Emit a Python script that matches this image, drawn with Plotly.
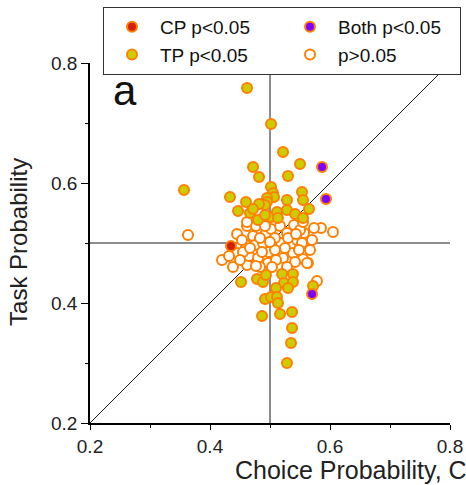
import plotly.graph_objects as go

# Choice probability (x) vs task probability (y) for each neuron, grouped by significance
tp_x = [0.4617, 0.5017, 0.5217, 0.55, 0.4717, 0.4817, 0.53, 0.3567, 0.4333, 0.5017,
        0.505, 0.5067, 0.495, 0.495, 0.4917, 0.4817, 0.46, 0.4467, 0.4667, 0.4717,
        0.48, 0.5017, 0.5117, 0.5283, 0.5283, 0.5417, 0.5533, 0.555, 0.565, 0.555,
        0.5133, 0.4917, 0.4517, 0.4783, 0.4883, 0.4933, 0.52, 0.5383, 0.5233, 0.5383,
        0.51, 0.53, 0.5717, 0.4917, 0.5017, 0.5117, 0.5133, 0.4867, 0.5167, 0.5367,
        0.5367, 0.535, 0.5283]
tp_y = [0.7583, 0.6983, 0.6517, 0.6317, 0.6267, 0.61, 0.6117, 0.5883, 0.5767, 0.5933,
        0.5833, 0.5767, 0.575, 0.5683, 0.5633, 0.565, 0.5683, 0.5533, 0.55, 0.5567,
        0.5383, 0.5433, 0.5517, 0.5717, 0.555, 0.5483, 0.585, 0.5717, 0.5567, 0.5417,
        0.5417, 0.5467, 0.435, 0.44, 0.435, 0.4467, 0.4483, 0.4483, 0.4333, 0.435,
        0.425, 0.425, 0.4283, 0.4067, 0.41, 0.41, 0.4, 0.3783, 0.3817, 0.385,
        0.3583, 0.3333, 0.3]

cp_x = [0.435]
cp_y = [0.495]

both_x = [0.5867, 0.5933, 0.57]
both_y = [0.6267, 0.5733, 0.415]

ns_x = [0.3633, 0.42, 0.4383, 0.4617, 0.585, 0.605, 0.5783, 0.5633, 0.555,
        0.4617, 0.4767, 0.445, 0.4717, 0.4933, 0.5017, 0.5167, 0.5283, 0.54, 0.5567,
        0.46, 0.475, 0.4883, 0.4983, 0.5183, 0.535, 0.545, 0.5533,
        0.445, 0.465, 0.48, 0.4967, 0.5167, 0.5217, 0.5383, 0.5417, 0.5617,
        0.4867, 0.5083, 0.455, 0.4833, 0.5283,
        0.4533, 0.5083, 0.525, 0.5483, 0.57, 0.5667, 0.5, 0.4667, 0.51, 0.53,
        0.4917, 0.45, 0.4317, 0.55, 0.5733, 0.4833, 0.5433, 0.5033, 0.555, 0.4617, 0.4767]
ns_y = [0.5133, 0.4717, 0.46, 0.4633, 0.525, 0.5183, 0.4367, 0.4667, 0.4733,
        0.5283, 0.5283, 0.515, 0.5117, 0.5167, 0.5233, 0.5283, 0.5167, 0.53, 0.5167,
        0.4967, 0.4967, 0.5, 0.485, 0.5, 0.4983, 0.505, 0.5,
        0.4833, 0.4783, 0.475, 0.4667, 0.4833, 0.475, 0.4833, 0.4683, 0.4667,
        0.485, 0.4883, 0.485, 0.46, 0.46,
        0.505, 0.5083, 0.4917, 0.4883, 0.505, 0.4883, 0.5017, 0.4917, 0.4717, 0.5083,
        0.5283, 0.4717, 0.4783, 0.5217, 0.525, 0.5083, 0.515, 0.46, 0.535, 0.535, 0.4617]

# Reference lines: chance levels and the identity line
ref_lo, ref_mid, ref_hi = 0.2, 0.5, 0.8

ORANGE = "#FF8000"
FONT = "Liberation Sans, Arial, sans-serif"
MSIZE = 10

fig = go.Figure()

line_style = dict(color="#1a1a1a", width=1)
fig.add_trace(go.Scatter(x=[ref_lo, ref_hi], y=[ref_lo, ref_hi], mode="lines",
                         line=line_style, showlegend=False, hoverinfo="skip"))
fig.add_trace(go.Scatter(x=[ref_lo, ref_hi], y=[ref_mid, ref_mid], mode="lines",
                         line=line_style, showlegend=False, hoverinfo="skip"))
fig.add_trace(go.Scatter(x=[ref_mid, ref_mid], y=[ref_lo, ref_hi], mode="lines",
                         line=line_style, showlegend=False, hoverinfo="skip"))

fig.add_trace(go.Scatter(x=ns_x, y=ns_y, mode="markers", name="p>0.05", legendrank=4,
                         marker=dict(size=MSIZE, color="white",
                                     line=dict(color=ORANGE, width=2))))
fig.add_trace(go.Scatter(x=tp_x, y=tp_y, mode="markers", name="TP p<0.05", legendrank=3,
                         marker=dict(size=MSIZE, color="#CCCC00",
                                     line=dict(color=ORANGE, width=2))))
fig.add_trace(go.Scatter(x=cp_x, y=cp_y, mode="markers", name="CP p<0.05", legendrank=1,
                         marker=dict(size=MSIZE, color="#D42000",
                                     line=dict(color=ORANGE, width=2))))
fig.add_trace(go.Scatter(x=both_x, y=both_y, mode="markers", name="Both p<0.05", legendrank=2,
                         marker=dict(size=MSIZE, color="#8000FF",
                                     line=dict(color=ORANGE, width=2))))

axis_common = dict(
    range=[0.2, 0.8], showgrid=False, zeroline=False, showline=True,
    linecolor="black", linewidth=1.5, ticks="outside", tickcolor="black",
    tickwidth=1.2, tickvals=[0.2, 0.4, 0.6, 0.8], ticktext=["0.2", "0.4", "0.6", "0.8"],
    tickfont=dict(family=FONT, size=19, color="#222222"),
    minor=dict(dtick=0.1, tick0=0.2, ticks="outside", ticklen=3, tickcolor="black", tickwidth=1),
)

fig.update_layout(
    width=466, height=485,
    margin=dict(l=90, r=16, t=63, b=62, autoexpand=False),
    paper_bgcolor="white", plot_bgcolor="white",
    font=dict(family=FONT, color="#222222"),
    xaxis=dict(**axis_common, ticklen=5),
    yaxis=dict(**axis_common, ticklen=7),
    showlegend=True,
    legend=dict(
        orientation="h", x=0.0361, y=1.1556, xanchor="left", yanchor="top",
        font=dict(family=FONT, size=19, color="#111111"),
        bgcolor="white", bordercolor="#333333", borderwidth=1,
        itemwidth=46, entrywidth=117, entrywidthmode="pixels",
        traceorder="normal", tracegroupgap=0,
    ),
    annotations=[
        dict(text="Choice Probability, CP", xref="paper", yref="paper",
             x=(233 - 90) / 360, y=-0.13, xanchor="left", yanchor="middle",
             showarrow=False, font=dict(family=FONT, size=25, color="#222222")),
        dict(text="Task Probability", xref="paper", yref="paper",
             x=(19 - 90) / 360, y=0.503, xanchor="center", yanchor="middle",
             textangle=-90, showarrow=False,
             font=dict(family=FONT, size=24, color="#222222")),
        dict(text="a", xref="paper", yref="paper",
             x=(111 - 90) / 360, y=(423 - 91) / 360, xanchor="left", yanchor="middle",
             showarrow=False, font=dict(family=FONT, size=42, color="#111111")),
    ],
)

fig.write_html("out.html")
